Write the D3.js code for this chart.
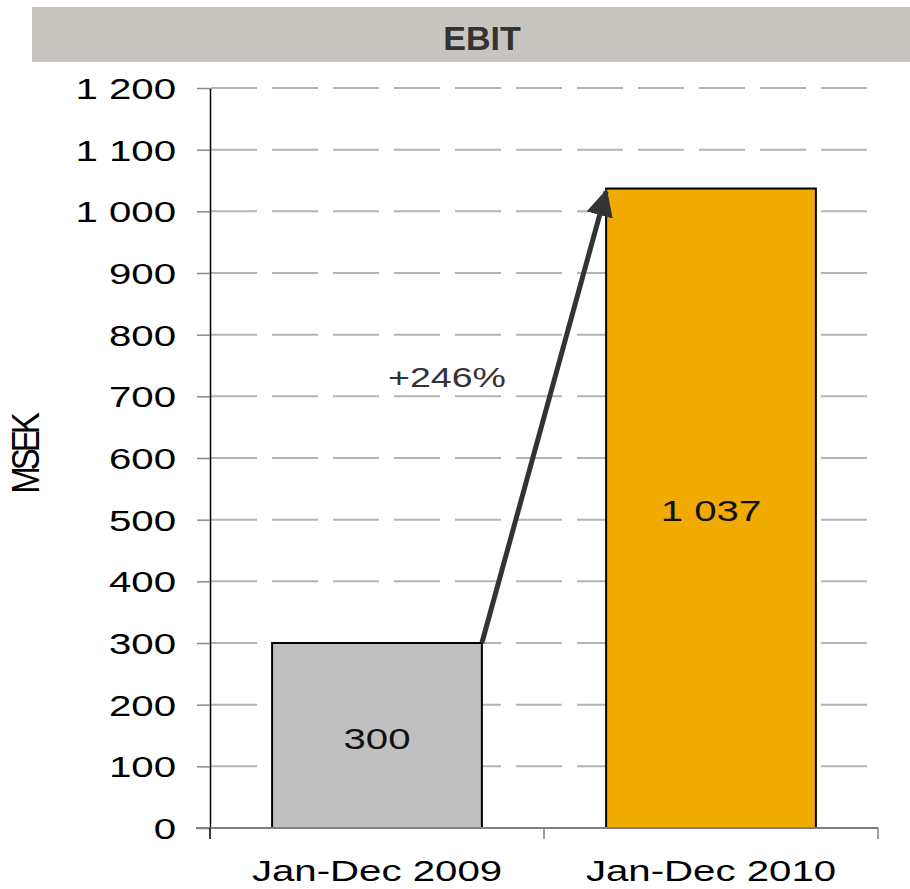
<!DOCTYPE html>
<html>
<head>
<meta charset="utf-8">
<script src="https://cdn.jsdelivr.net/npm/d3@7"></script>
<style>
  body { margin: 0; background: #fff; }
  svg { display: block; font-family: "Liberation Sans", Arial, sans-serif; }
</style>
</head>
<body>
<svg id="chart" width="910" height="889"></svg>
<script>
// chart data
const title = "EBIT";
const yLabel = "MSEK";
const categories = ["Jan-Dec 2009", "Jan-Dec 2010"];
const values = [300, 1037];
const barColors = ["#c0c0c0", "#f0aa00"];
const yTicks = [0, 100, 200, 300, 400, 500, 600, 700, 800, 900, 1000, 1100, 1200];
const growthLabel = "+246%";

const svg = d3.select("#chart");
const margin = { top: 88, right: 32, bottom: 61, left: 210 };
const width = +svg.attr("width");
const height = +svg.attr("height");

const locale = d3.formatLocale({ decimal: ".", thousands: " ", grouping: [3], currency: ["", ""] });
const fmt = locale.format(",");

const x = d3.scaleBand()
  .domain(categories)
  .range([margin.left, width - margin.right])
  .paddingInner(0.372)
  .paddingOuter(0.186);

const y = d3.scaleLinear()
  .domain([0, 1200])
  .range([height - margin.bottom, margin.top]);

// text is drawn a bit wider than normal, like the original
const sx = 1.34;
function wideText(g, tx, ty, txt, size, anchor, fill) {
  return g.append("text")
    .attr("transform", `translate(${tx},${ty}) scale(${sx},1)`)
    .attr("text-anchor", anchor)
    .attr("font-size", size)
    .attr("fill", fill || "#000")
    .text(txt);
}

// title band
svg.append("rect")
  .attr("x", 32).attr("y", 7)
  .attr("width", width - 32).attr("height", 55)
  .attr("fill", "#c8c5c0");
svg.append("text")
  .attr("x", 482).attr("y", 50)
  .attr("text-anchor", "middle")
  .attr("font-size", 34)
  .attr("font-weight", "bold")
  .attr("fill", "#333")
  .text(title);

// gridlines
svg.append("g")
  .selectAll("line")
  .data(yTicks.filter(d => d > 0))
  .enter()
  .append("line")
  .attr("x1", margin.left + 1)
  .attr("x2", width - margin.right)
  .attr("y1", d => y(d))
  .attr("y2", d => y(d))
  .attr("stroke", "#b4b4b4")
  .attr("stroke-width", 2)
  .attr("stroke-dasharray", "46,15");

// y axis
const yAxis = svg.append("g")
  .attr("transform", `translate(${margin.left},0)`)
  .call(d3.axisLeft(y).tickValues(yTicks).tickSize(13).tickSizeOuter(0).tickFormat(d => ""));
yAxis.select(".domain").attr("stroke", "#000").attr("stroke-width", 1.5);
yAxis.selectAll(".tick line").attr("stroke", "#888").attr("stroke-width", 1.5);

const yLab = svg.append("g");
yTicks.forEach(t => {
  wideText(yLab, 176, y(t) + 11, fmt(t), 30, "end");
});

// y title
svg.append("text")
  .attr("transform", `translate(39,455) scale(1.15,1) rotate(-90)`)
  .attr("text-anchor", "middle")
  .attr("font-size", 33)
  .attr("letter-spacing", -4)
  .text(yLabel);

// bars
svg.append("g")
  .selectAll("rect")
  .data(values)
  .enter()
  .append("rect")
  .attr("x", (d, i) => x(categories[i]))
  .attr("y", d => y(d))
  .attr("width", x.bandwidth())
  .attr("height", d => y(0) - y(d))
  .attr("fill", (d, i) => barColors[i])
  .attr("stroke", "#000")
  .attr("stroke-width", 2);

// x axis
const x0 = margin.left, x1 = width - margin.right;
svg.append("line")
  .attr("x1", x0 - 14).attr("x2", x1)
  .attr("y1", y(0)).attr("y2", y(0))
  .attr("stroke", "#808080").attr("stroke-width", 2);
const bounds = [x0].concat(categories.map(c => x(c) + x.bandwidth() + x.step() * 0.186));
svg.append("g")
  .selectAll("line")
  .data(bounds)
  .enter()
  .append("line")
  .attr("x1", d => d).attr("x2", d => d)
  .attr("y1", y(0)).attr("y2", y(0) + 11)
  .attr("stroke", (d, i) => i === 0 ? "#000" : "#808080")
  .attr("stroke-width", 1.5);

const xLab = svg.append("g");
categories.forEach(c => {
  wideText(xLab, x(c) + x.bandwidth() / 2, 881, c, 30, "middle");
});

// value labels
const vLab = svg.append("g");
values.forEach((v, i) => {
  const c = categories[i];
  wideText(vLab, x(c) + x.bandwidth() / 2, (y(v) + y(0)) / 2 + 13, fmt(v), 30, "middle", "#111");
});

// growth arrow
svg.append("defs").append("marker")
  .attr("id", "head")
  .attr("viewBox", "0 0 10 10")
  .attr("refX", 9).attr("refY", 5)
  .attr("markerWidth", 5.4).attr("markerHeight", 5.4)
  .attr("markerUnits", "strokeWidth")
  .attr("orient", "auto")
  .append("path")
  .attr("d", "M0,0 L10,5 L0,10 z")
  .attr("fill", "#333");

const ax1 = x(categories[0]) + x.bandwidth();
const ay1 = y(values[0]);
const ax2 = x(categories[1]);
const ay2 = y(values[1]) + 3;
svg.append("line")
  .attr("x1", ax1).attr("y1", ay1)
  .attr("x2", ax2).attr("y2", ay2)
  .attr("stroke", "#333")
  .attr("stroke-width", 5)
  .attr("marker-end", "url(#head)");

wideText(svg, 447, 387, growthLabel, 28, "middle", "#333");
</script>
</body>
</html>
